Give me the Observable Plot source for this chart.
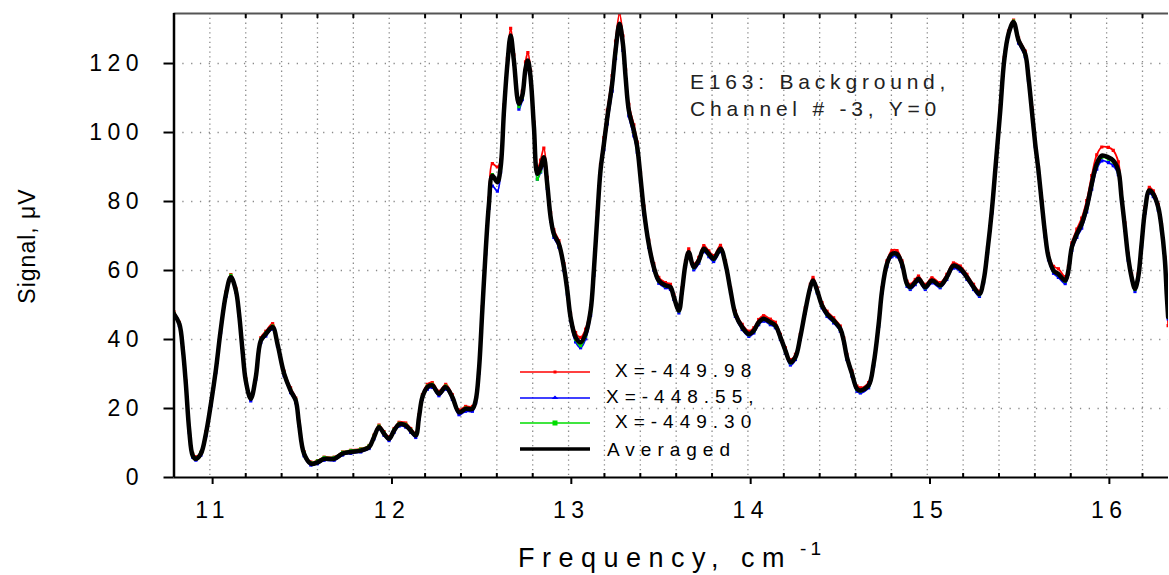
<!DOCTYPE html>
<html><head><meta charset="utf-8">
<script src="https://cdn.jsdelivr.net/npm/d3@7"></script>
<script src="https://cdn.jsdelivr.net/npm/@observablehq/plot@0.6"></script>
<style>
body{margin:0;background:#fff;}
#chart svg{display:block;}
</style></head><body><div id="chart"></div>
<script>
const freq = [10.80,10.83,10.85,10.866,10.885,10.904,10.922,10.95,10.978,11.006,11.033,11.06,11.09,11.117,11.145,11.163,11.182,11.2,11.228,11.256,11.284,11.312,11.35,11.377,11.414,11.45,11.479,11.497,11.525,11.563,11.6,11.637,11.693,11.74,11.786,11.841,11.888,11.915,11.943,11.971,11.999,12.027,12.055,12.092,12.12,12.148,12.166,12.185,12.213,12.24,12.277,12.315,12.352,12.389,12.426,12.464,12.482,12.5,12.519,12.538,12.556,12.575,12.603,12.621,12.64,12.659,12.677,12.695,12.723,12.742,12.76,12.773,12.788,12.807,12.826,12.844,12.862,12.881,12.9,12.918,12.946,12.974,12.993,13.011,13.039,13.067,13.095,13.123,13.141,13.16,13.178,13.197,13.216,13.243,13.262,13.284,13.303,13.318,13.336,13.364,13.383,13.401,13.42,13.447,13.475,13.503,13.54,13.568,13.587,13.615,13.633,13.652,13.67,13.698,13.726,13.754,13.782,13.809,13.847,13.875,13.903,13.93,13.968,14.005,14.033,14.06,14.088,14.125,14.153,14.181,14.209,14.237,14.265,14.292,14.32,14.348,14.363,14.386,14.413,14.441,14.478,14.515,14.534,14.552,14.58,14.608,14.627,14.673,14.701,14.729,14.748,14.775,14.803,14.831,14.859,14.887,14.905,14.933,14.951,14.989,15.026,15.072,15.109,15.146,15.184,15.221,15.258,15.291,15.314,15.336,15.36,15.382,15.407,15.429,15.453,15.481,15.509,15.546,15.564,15.583,15.602,15.62,15.639,15.657,15.676,15.704,15.731,15.769,15.787,15.806,15.834,15.861,15.889,15.917,15.945,15.973,16.01,16.037,16.065,16.083,16.102,16.12,16.139,16.158,16.176,16.195,16.214,16.238,16.26,16.288,16.306,16.325,16.335,16.343];

const averaged = [47.4,44.5,36.8,27.2,13.6,6.4,5.4,6.9,12.7,21.4,31,42.6,53.2,58.1,54.2,47.4,36.8,28.1,22.8,29.1,39.7,41.6,43.6,38.7,30.1,25.2,22.3,15.6,6.9,4.0,4.4,5.4,5.4,6.9,7.4,7.8,8.8,11.7,14.6,12.7,11.2,13.6,15.4,15.1,13.6,12.2,17.5,23.3,26.2,26.7,24.3,26.2,23.3,18.9,19.9,19.9,22.3,31,48.4,65.8,79.3,87.5,85.6,89.9,106.4,119.9,128.1,120.9,108.3,110.7,118.5,120.9,116,101.5,88,89.9,92.8,85.1,75.4,70.6,67.7,61,54.2,46.5,40.7,39.2,41.6,48.4,60,75.4,89,96.7,104.4,114.1,123.8,131.5,125.7,116,106.4,100.6,95.7,87,77.4,67.7,61,57.1,55.7,55.2,52.3,48.4,54.2,61.9,65.3,61,62.9,66.3,64.8,63.4,66.3,61.9,54.2,47.4,43.6,41.6,42.6,45,46,45,44.1,40.7,36.8,33.4,34.9,40.7,48.4,55.2,57.1,54.2,49.9,47.4,45.5,43.1,39.7,34.9,30.1,25.7,25.2,26.7,33,44.5,54.2,61.9,64.8,64.8,61.9,56.1,55.2,56.6,57.6,55.2,57.1,55.7,58.1,61.4,60.5,58.1,55.2,53.2,57.1,65.8,77.4,90.9,106.4,120.9,128.6,132,126.7,122.8,116,106.4,96.7,89,79.3,70.6,63.9,60,59,57.1,60,66.8,70.6,73.5,78.3,85.1,90.9,93.3,92.8,91.9,89,81.2,72.5,63.9,58.1,54.7,58.1,67.7,77.4,83.2,82.2,78.3,72.5,62.9,53.2,46.5];

const seriesRed = [48.0,45.0,37.5,28.0,14.3,7.0,6.0,7.4,13.3,22.0,31.6,43.2,53.8,58.8,54.8,48.0,37.4,28.7,23.4,29.8,40.5,42.4,44.6,39.4,30.8,26.0,23.0,16.3,7.5,4.5,4.9,5.9,5.9,7.4,7.9,8.3,9.3,12.3,15.2,13.3,11.8,14.2,16.0,15.8,14.2,12.8,18.2,24.0,27.0,27.5,25.0,27.0,24.0,19.6,20.6,20.6,23.0,32.0,49.5,67.0,81.0,91.0,90.0,92.0,108.0,121.5,130.2,122.5,109.5,112.0,120.5,123.2,118.0,103.0,89.5,92.0,95.5,87.0,76.8,71.8,68.7,62.0,55.3,47.6,42.0,40.6,43.0,49.8,61.5,77.0,90.8,98.5,106.5,116.5,126.5,134.4,128.0,118.2,108.2,102.2,97.2,88.4,78.7,68.8,62.0,58.0,56.5,56.0,53.0,49.2,55.0,62.8,66.3,61.9,63.8,67.2,65.7,64.3,67.3,62.8,55.0,48.2,44.4,42.4,43.4,45.8,46.9,45.9,45.0,41.5,37.6,34.2,35.7,41.5,49.2,56.0,58.0,55.0,50.7,48.2,46.3,43.9,40.5,35.7,30.9,26.5,26.0,27.5,33.8,45.3,55.0,62.8,65.8,65.8,62.8,56.9,56.0,57.4,58.4,56.0,57.9,56.5,58.9,62.2,61.3,58.9,56.0,54.0,57.9,66.7,78.3,91.8,107.3,121.8,129.4,132.6,127.4,123.6,116.8,107.2,97.5,89.8,80.1,71.4,64.8,61.2,60.5,58.2,61.2,68.0,72.0,75.2,80.3,87.5,93.5,95.8,95.7,94.8,91.5,82.8,73.8,65.0,59.0,55.5,59.0,68.6,78.3,84.1,83.1,79.2,73.4,63.8,54.1,44.0];

const seriesBlue = [47.0,44.0,36.2,26.6,13.0,5.9,5.0,6.5,12.1,20.8,30.4,42.0,52.6,57.6,53.7,46.9,36.2,27.5,22.2,28.5,39.1,41.0,43.0,38.1,29.5,24.6,21.7,15.0,6.3,3.6,4.0,5.0,5.0,6.5,7.0,7.4,8.4,11.2,14.1,12.2,10.7,13.1,14.9,14.6,13.1,11.6,16.9,22.7,25.6,26.1,23.7,25.6,22.6,18.2,19.2,19.2,21.6,30.2,47.5,64.8,78.0,84.5,83.0,88.5,105.2,118.8,127.0,119.8,106.8,109.5,117.2,119.3,114.5,100.0,86.5,88.5,90.5,83.8,74.3,69.6,66.8,60.0,53.2,45.4,39.3,37.6,40.2,47.0,58.6,74.0,87.5,95.0,102.5,112.0,121.5,129.5,123.8,114.2,104.8,99.0,94.3,85.7,76.2,66.7,60.1,56.3,55.0,54.5,51.6,47.7,53.5,61.1,64.5,60.2,62.1,65.5,64.0,62.6,65.5,61.1,53.4,46.7,42.9,40.9,41.9,44.3,45.3,44.3,43.4,40.0,36.1,32.6,34.2,40.0,47.7,54.5,56.4,53.5,49.2,46.7,44.8,42.4,39.0,34.2,29.4,25.0,24.5,26.0,32.3,43.8,53.5,61.1,64.0,64.0,61.1,55.4,54.5,55.9,56.9,54.5,56.4,55.0,57.4,60.7,59.8,57.4,54.5,52.5,56.4,65.0,76.6,90.1,105.6,120.1,127.8,131.2,125.9,122.0,115.2,105.6,95.9,88.2,78.5,69.8,63.1,59.2,58.0,56.2,59.0,65.8,69.6,72.3,77.0,83.6,89.4,91.8,91.3,90.4,87.8,80.2,71.6,63.0,57.3,53.9,57.3,66.9,76.6,82.4,81.4,77.5,71.7,62.1,52.4,46.0];

const seriesGreen = [47.6,44.7,36.9,27.3,13.8,6.6,5.6,7.2,13.0,21.8,31.3,42.9,53.5,58.6,54.5,47.7,37.1,28.4,23.1,29.4,40.0,41.9,43.9,39.0,30.4,25.5,22.6,15.9,7.2,4.3,4.8,5.8,5.8,7.3,7.8,8.2,9.2,12.0,14.9,13.0,11.5,13.9,15.7,15.4,13.9,12.5,17.8,23.6,26.5,27.0,24.6,26.5,23.5,19.1,20.1,20.1,22.5,31.2,48.6,66.0,79.6,87.8,86.0,89.5,106.0,119.2,127.5,120.5,107.5,110.2,118.0,120.3,115.5,101.0,86.5,88.8,92.0,84.5,75.0,70.3,67.4,60.6,53.8,46.0,40.0,38.2,40.9,48.0,59.5,75.0,88.6,96.3,104.0,113.6,123.0,130.6,125.0,115.3,105.8,100.0,95.2,86.5,77.0,67.3,60.7,56.9,55.5,55.0,52.1,48.3,54.0,61.7,65.1,60.8,62.7,66.1,64.6,63.2,66.1,61.7,54.0,47.2,43.4,41.4,42.4,44.8,45.8,44.8,43.9,40.5,36.6,33.2,34.7,40.5,48.2,55.0,56.9,54.0,49.7,47.2,45.3,42.9,39.5,34.7,29.9,25.5,25.0,26.5,32.8,44.3,54.0,61.7,64.6,64.6,61.7,55.9,55.0,56.4,57.4,55.0,56.9,55.5,57.9,61.4,60.4,57.9,55.0,53.0,56.9,65.6,77.2,90.7,106.2,120.8,128.6,132.3,126.6,122.6,115.8,106.2,96.5,88.8,79.1,70.4,63.7,59.8,58.8,56.9,59.8,66.6,70.4,73.3,78.0,84.8,90.4,92.8,92.3,91.4,88.6,81.0,72.3,63.7,57.9,54.5,57.9,67.5,77.2,83.0,82.0,78.1,72.3,62.7,53.0,47.0];

const yTicks = [0, 20, 40, 60, 80, 100, 120];
const xTicks = [11, 12, 13, 14, 15, 16];
const xGridLines = [11,11.2,11.4,11.6,11.8,12,12.2,12.4,12.6,12.8,13,13.2,13.4,13.6,13.8,14,14.2,14.4,14.6,14.8,15,15.2,15.4,15.6,15.8,16,16.2];
const xMinorTicks = [11.2,11.4,11.6,11.8,12.2,12.4,12.6,12.8,13.2,13.4,13.6,13.8,14.2,14.4,14.6,14.8,15.2,15.4,15.6,15.8,16.2];
const yGridLines = [20, 40, 60, 80, 100, 120];
const legendLabels = [" X=-449.98", "X=-448.55,", " X=-449.30", "Averaged"];
const legendColors = ["#ff0000", "#0000ff", "#00dd00", "#000000"];
const annotationLines = ["E163: Background,", "Channel # -3, Y=0"];
const xLabel = "Frequency, cm";
const xLabelSup = "-1";
const yLabel = "Signal, \u03BCV";

const rows = freq.map((f, i) => ({f, avg: averaged[i], red: seriesRed[i], blue: seriesBlue[i], green: seriesGreen[i]}));
const FONT = "'Liberation Sans', Arial, sans-serif";
const X0 = 10.8, X1 = 16.345, Y0 = 0, Y1 = 134.5;

const colored = [["red", "#ff0000"], ["blue", "#0000ff"], ["green", "#00dd00"]];
const marks = [
  Plot.gridX(xGridLines, {stroke: "#8a8a8a", strokeOpacity: 1, strokeWidth: 1.3, strokeDasharray: "1.3,3.5"}),
  Plot.gridY(yGridLines, {stroke: "#8a8a8a", strokeOpacity: 1, strokeWidth: 1.3, strokeDasharray: "1.3,7.5"})
];
for (const [key, col] of colored) {
  marks.push(Plot.line(rows, {x: "f", y: key, stroke: col, strokeWidth: 1.8, curve: "catmull-rom", clip: true}));
  marks.push(Plot.dot(rows, {x: "f", y: key, fill: col, r: 1.8, symbol: "square", clip: true}));
}
marks.push(Plot.line(rows, {x: "f", y: "avg", stroke: "#000", strokeWidth: 4.5, curve: "catmull-rom", clip: true}));
marks.push(
  Plot.ruleY([Y1], {stroke: "#555", strokeWidth: 2}),
  Plot.ruleY([Y0], {stroke: "#000", strokeWidth: 2}),
  Plot.ruleX([X0], {stroke: "#000", strokeWidth: 2.5}),
  Plot.axisY({ticks: yTicks, tickSize: 10, tickPadding: 20, tickFormat: d => String(d), label: null, strokeWidth: 2, fontSize: 23, fill: "#000"}),
  Plot.axisX({ticks: xTicks, tickSize: 7, tickPadding: 17, tickFormat: d => String(d), label: null, strokeWidth: 2, fontSize: 23, fill: "#000", dx: 2.75}),
  Plot.axisX({ticks: xMinorTicks, tickSize: 4, dy: -4, tickFormat: () => "", label: null, strokeWidth: 2}),
  Plot.axisX({anchor: "top", ticks: xMinorTicks, tickSize: 4, dy: 4, tickFormat: () => "", label: null, strokeWidth: 2})
);

const svgNode = Plot.plot({
  width: 1169, height: 575,
  marginLeft: 173.5, marginRight: 1, marginTop: 13, marginBottom: 98,
  style: {fontFamily: FONT, background: "#fff", color: "#000", overflow: "visible"},
  x: {domain: [X0, X1]},
  y: {domain: [Y0, Y1]},
  marks
});
document.getElementById("chart").appendChild(svgNode);

const svg = d3.select(svgNode);
svg.selectAll('g[aria-label="y-axis tick label"] text, g[aria-label="x-axis tick label"] text')
   .style("letter-spacing", "5.5px");

// axis titles
const xt = svg.append("text").attr("x", 518).attr("y", 567).attr("text-anchor", "start")
  .style("font-family", FONT).style("font-size", "27px").style("letter-spacing", "7.5px").attr("fill", "#000");
xt.append("tspan").text(xLabel);
xt.append("tspan").attr("dx", 8).attr("dy", -12).style("font-size", "19px").style("letter-spacing", "4px").text(xLabelSup);

svg.append("text").attr("transform", "translate(35,246) rotate(-90)").attr("text-anchor", "middle")
  .style("font-family", FONT).style("font-size", "23px").style("letter-spacing", "1px").attr("fill", "#000").text(yLabel);

// annotation
annotationLines.forEach((t, i) => {
  svg.append("text").attr("x", 690).attr("y", 89 + i * 27).attr("text-anchor", "start")
    .style("font-family", FONT).style("font-size", "21px").style("letter-spacing", "4.8px").attr("fill", "#222").text(t);
});

// legend
const legendY = [372, 398, 423, 449];
const legendTextX = [615, 606, 615, 607];
legendLabels.forEach((t, i) => {
  const y = legendY[i];
  svg.append("line").attr("x1", 520).attr("x2", 590).attr("y1", y).attr("y2", y)
    .attr("stroke", legendColors[i]).attr("stroke-width", i === 3 ? 3.5 : 1.5);
  if (i === 0) svg.append("rect").attr("x", 553.5).attr("y", y - 1.5).attr("width", 3).attr("height", 3).attr("fill", legendColors[i]);
  if (i === 1) svg.append("path").attr("d", `M551.5,${y + 1}L555,${y - 2.5}L558.5,${y + 1}Z`).attr("fill", legendColors[i]);
  if (i === 2) svg.append("rect").attr("x", 552.5).attr("y", y - 2.5).attr("width", 5).attr("height", 5).attr("fill", legendColors[i]);
  svg.append("text").attr("x", legendTextX[i]).attr("y", y + 5 + (i === 3 ? 2 : 0)).attr("text-anchor", "start")
    .style("font-family", FONT).style("font-size", "19px").style("letter-spacing", "6px").attr("fill", "#000").text(t.trim());
});
</script></body></html>
